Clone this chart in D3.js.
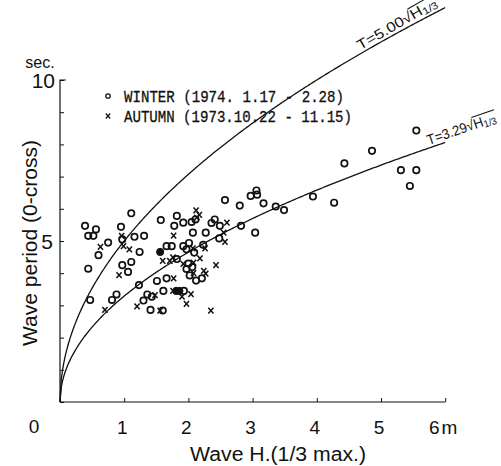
<!DOCTYPE html>
<html><head><meta charset="utf-8">
<script src="https://cdn.jsdelivr.net/npm/d3@7"></script>
<style>
html,body{margin:0;padding:0;background:#fff;}
svg{display:block;}
text{fill:#111;}
</style></head>
<body>
<svg id="chart" width="501" height="466"></svg>
<script>
// ---- data ----
const winterH = [0.39,0.44,0.52,0.56,0.75,0.60,0.44,0.47,1.11,0.95,0.97,1.16,1.31,1.24,0.97,1.11,1.06,1.23,0.88,0.81,1.36,1.30,1.43,1.41,1.51,1.61,1.66,1.57,1.82,1.78,1.92,2.05,2.11,2.07,2.27,1.66,1.74,1.92,2.01,1.97,2.23,1.82,2.00,2.06,1.97,2.02,2.12,2.21,1.93,1.60,2.09,2.41,2.36,2.49,2.57,2.80,2.97,3.06,3.07,3.17,3.36,3.49,2.82,3.04,2.48,3.94,4.27,4.43,4.86,5.31,5.55,5.45,5.55];
const winterT = [5.47,5.16,5.16,5.36,4.95,4.56,4.14,3.17,5.86,5.44,5.05,5.13,5.16,4.66,4.25,4.35,4.04,3.63,3.34,3.17,3.34,3.15,3.27,2.86,3.76,3.45,3.84,5.65,5.78,5.47,5.57,5.59,5.67,5.26,5.26,4.84,4.84,4.84,4.94,4.74,4.88,4.44,4.30,4.19,4.13,3.93,3.77,3.84,3.45,2.84,4.64,5.67,5.56,5.47,6.27,6.10,6.40,6.57,6.44,6.17,6.07,5.96,5.47,5.26,5.08,6.38,6.19,7.41,7.80,7.20,7.20,6.71,8.43];
const winterFilledH = [1.56,1.81,1.86];
const winterFilledT = [4.66,3.45,3.45];
const autumnH = [0.63,0.96,0.99,1.08,0.92,0.70,1.20,1.48,1.56,1.60,1.71,1.77,1.76,1.77,2.12,2.17,2.13,2.18,2.26,2.07,2.08,1.92,2.08,2.24,2.27,2.43,2.60,2.55,2.57,1.76,1.90,2.04,1.97,2.35];
const autumnT = [4.82,5.16,4.84,4.74,3.94,2.86,2.97,3.32,2.84,4.38,4.38,5.17,4.49,3.84,5.95,5.81,5.73,4.46,4.77,4.77,4.33,4.29,4.00,4.07,3.99,4.25,5.57,5.26,4.97,3.45,3.27,3.35,3.05,2.84];
const curveK = [5.00, 3.29];
const curveLabels = ["T=5.00", "T=3.29"];
const xTickValues = [1,2,3,4,5,6];
const xTickLabels = ["1","2","3","4","5","6"];
const yTickValues = [10,5];
const yTickLabels = ["10","5"];
const legendLabels = ["WINTER (1974. 1.17 - 2.28)", "AUTUMN (1973.10.22 - 11.15)"];

// ---- drawing ----
const svg = d3.select("#chart");
const x = d3.scaleLinear().domain([0,6]).range([60,445.2]);
const y = d3.scaleLinear().domain([0,10]).range([402,80]);
const ink = "#111";

// axes
const yAxis = d3.axisRight(y).tickValues(d3.range(0,11)).tickSize(4).tickFormat("");
svg.append("g").attr("transform","translate(60,0)").call(yAxis)
  .call(g=>{g.select(".domain").attr("d",`M0,${y(0)}V${y(10)}H6`).attr("stroke",ink).attr("stroke-width",1.2);
            g.selectAll("line").attr("stroke",ink).attr("stroke-width",1);});
const xAxis = d3.axisTop(x).tickValues(d3.range(0,7)).tickSize(4).tickFormat("");
svg.append("g").attr("transform",`translate(0,${y(0)})`).call(xAxis)
  .call(g=>{g.select(".domain").attr("d",`M${x(0)},0H${x(6)}`).attr("stroke",ink).attr("stroke-width",1.2);
            g.selectAll("line").attr("stroke",ink).attr("stroke-width",1);});

const numFont = "'Liberation Sans', Arial, sans-serif";
// tick labels
svg.selectAll(".xl").data(xTickValues).enter().append("text")
  .attr("x",(d)=>x(d)-2).attr("y",434).attr("text-anchor","middle")
  .style("font-family",numFont).style("font-size","19px")
  .text((d,i)=>xTickLabels[i]).filter(d=>d===6).append("tspan").attr("dx",2).text("m");
svg.append("text").attr("x",34).attr("y",433).attr("text-anchor","middle")
  .style("font-family",numFont).style("font-size","19px").text("0");
svg.selectAll(".yl").data(yTickValues).enter().append("text")
  .attr("x",(d)=>d===5?53:55).attr("y",d=>y(d)+8).attr("text-anchor","end")
  .style("font-family",numFont).style("font-size","21px")
  .text((d,i)=>yTickLabels[i]);
svg.append("text").attr("x",40).attr("y",68).attr("text-anchor","middle")
  .style("font-family",numFont).style("font-size","16px").text("sec.");

// axis titles
svg.append("text").attr("transform","translate(37,243) rotate(-90)").attr("text-anchor","middle")
  .attr("textLength",206).attr("lengthAdjust","spacingAndGlyphs")
  .style("font-family",numFont).style("font-size","20px").text("Wave period (0-cross)");
svg.append("text").attr("x",190).attr("y",461)
  .attr("textLength",176).attr("lengthAdjust","spacingAndGlyphs")
  .style("font-family",numFont).style("font-size","20px").text("Wave H.(1/3 max.)");

// curves
const line = d3.line().x(d=>x(d[0])).y(d=>y(d[1])).curve(d3.curveLinear);
curveK.forEach((k,ci)=>{
  const pts = d3.range(0,6.0001,0.02).map(h=>[h,k*Math.sqrt(h)]);
  svg.append("path").attr("d",line(pts)).attr("fill","none").attr("stroke",ink).attr("stroke-width",1.3);
});

// curve labels
const labelPos = [{h:4.7, len:90, off:3}, {h:5.76, len:72, off:3}];
curveK.forEach((k,ci)=>{
  const lp = labelPos[ci];
  const h = lp.h;
  const px = x(h), py = y(k*Math.sqrt(h));
  const slope = (k/(2*Math.sqrt(h))) * (322/10) / (385.2/6);
  const ang = -Math.atan(slope)*180/Math.PI;
  const g = svg.append("g").attr("transform",`translate(${px},${py}) rotate(${ang})`);
  const t = g.append("text").attr("x",0).attr("y",-lp.off)
    .style("font-family",numFont).style("font-size","14px");
  t.append("tspan").text(curveLabels[ci]+"\u221A");
  t.append("tspan").text("H");
  t.append("tspan").attr("dy",2).style("font-size","10px").text("1/3");
  const full = t.node().getComputedTextLength();
  const sc = lp.len/full;
  t.attr("transform",`scale(${sc},1)`);
  const n = t.node();
  const startH = n.getSubStringLength(0, curveLabels[ci].length+1);
  g.append("line").attr("x1",startH*sc).attr("x2",lp.len+1)
    .attr("y1",-lp.off-12).attr("y2",-lp.off-12).attr("stroke",ink).attr("stroke-width",1);
});

// scatter: winter (circles)
const winter = winterH.map((h,i)=>[h,winterT[i]]);
svg.append("g").selectAll("circle").data(winter).enter().append("circle")
  .attr("cx",d=>x(d[0])).attr("cy",d=>y(d[1])).attr("r",3.2)
  .attr("fill","none").attr("stroke",ink).attr("stroke-width",1.7);
const winterF = winterFilledH.map((h,i)=>[h,winterFilledT[i]]);
svg.append("g").selectAll("circle").data(winterF).enter().append("circle")
  .attr("cx",d=>x(d[0])).attr("cy",d=>y(d[1])).attr("r",3.6)
  .attr("fill",ink).attr("stroke",ink).attr("stroke-width",1);

// autumn (crosses)
const autumn = autumnH.map((h,i)=>[h,autumnT[i]]);
const cs = 2.6;
svg.append("g").selectAll("path").data(autumn).enter().append("path")
  .attr("d",d=>{const cx=x(d[0]), cy=y(d[1]);
     return `M${cx-cs},${cy-cs*1.1}L${cx+cs},${cy+cs*1.1}M${cx+cs},${cy-cs*1.1}L${cx-cs},${cy+cs*1.1}`;})
  .attr("stroke",ink).attr("stroke-width",1.5).attr("fill","none");

// legend
const monoFont = "'Liberation Mono','DejaVu Sans Mono',monospace";
const lg = svg.append("g");
lg.append("circle").attr("cx",108).attr("cy",96).attr("r",2.2).attr("fill","none").attr("stroke",ink).attr("stroke-width",1.3);
lg.append("path").attr("d","M105.8,113.5L110.2,118.5M110.2,113.5L105.8,118.5").attr("stroke",ink).attr("stroke-width",1.2);
const legLens = [220, 228];
legendLabels.forEach((s,i)=>{
  lg.append("text").attr("x",124).attr("y",102+i*20)
    .attr("textLength",legLens[i]).attr("lengthAdjust","spacingAndGlyphs")
    .style("font-family",monoFont).style("font-size","16px")
    .style("stroke",ink).style("stroke-width","0.3").text(s);
});
</script>
</body></html>
